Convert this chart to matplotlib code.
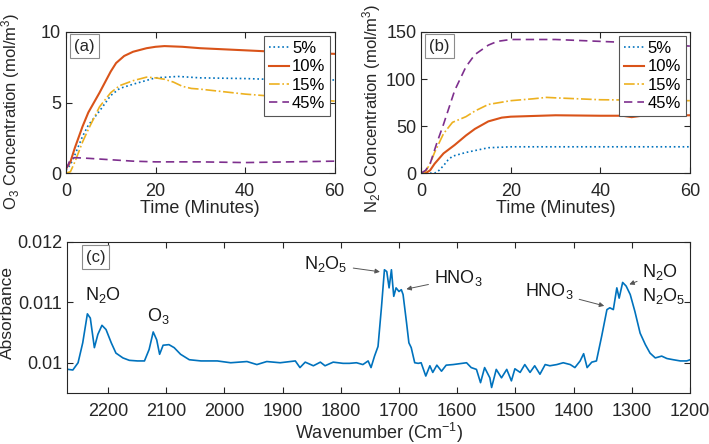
import matplotlib
matplotlib.use("Agg")
import matplotlib.pyplot as plt

plt.rcParams["font.family"] = ["Liberation Sans", "DejaVu Sans"]
plt.rcParams["mathtext.fontset"] = "custom"
plt.rcParams["mathtext.rm"] = "Liberation Sans"
plt.rcParams["mathtext.it"] = "Liberation Sans"

# ---------------------------------------------------------------------------
# Data
# ---------------------------------------------------------------------------
labels = ["5%", "10%", "15%", "45%"]

# (a) O3 concentration
o3_t_5 = [0, 1, 2, 3.7, 5, 7.5, 10, 12, 15, 20, 25, 30, 40, 50, 60]
o3_5 = [0.2, 0.6, 1.3, 2.6, 3.4, 4.4, 5.5, 6.0, 6.3, 6.75, 6.85, 6.75, 6.7, 6.6, 6.6]
o3_t_10 = [0, 1, 2, 3.7, 5, 7.5, 10, 11.2, 13, 15, 18, 20, 22, 26, 30, 40, 50, 60]
o3_10 = [0.3, 0.8, 1.8, 3.3, 4.3, 5.7, 7.2, 7.8, 8.3, 8.6, 8.85, 8.95, 9.0, 8.95, 8.85, 8.7, 8.55, 8.45]
o3_t_15 = [0, 1, 2, 3.7, 5, 7.5, 10, 12, 15, 18, 20, 22, 24, 26, 28, 30, 40, 50, 60]
o3_15 = [0.0, 0.1, 0.8, 2.2, 3.1, 4.7, 5.7, 6.2, 6.55, 6.8, 6.75, 6.65, 6.45, 6.15, 6.0, 5.95, 5.6, 5.35, 5.1]
o3_t_45 = [0, 0.5, 1, 2, 5, 10, 15, 20, 30, 40, 50, 60]
o3_45 = [0.3, 0.6, 1.0, 1.1, 1.05, 0.95, 0.85, 0.8, 0.8, 0.75, 0.8, 0.85]

# (b) N2O concentration
n2o_t_5 = [0, 2, 3, 4, 5, 6, 7, 10, 12, 15, 20, 30, 40, 50, 60]
n2o_5 = [0, 0, 0, 3, 8, 14, 18, 22, 24, 27, 28, 28, 28, 28, 28]
n2o_t_10 = [0, 1, 2, 3, 5, 7.5, 10, 12, 15, 18, 20, 30, 40, 45, 47, 50, 60]
n2o_10 = [0, 0, 3, 10, 21, 30, 40, 47, 55, 59, 60, 61.5, 61, 61, 59.5, 61.5, 61.5]
n2o_t_15 = [0, 1, 2, 3, 5, 7, 8, 10, 12, 15, 20, 25, 28, 30, 40, 50, 60]
n2o_15 = [0, 2, 10, 22, 42, 54, 56, 60, 66, 73, 77, 79, 80.5, 80, 78, 77.5, 77]
n2o_t_45 = [0, 1, 2, 3.5, 5, 7.5, 10, 12, 15, 17, 20, 30, 40, 50, 60]
n2o_45 = [0, 3, 10, 32, 52, 88, 113, 126, 136, 140, 142, 142, 140, 138, 135]

# (c) FTIR spectrum
wavenumber = [2268, 2260, 2251, 2243, 2235, 2230, 2223, 2217, 2210, 2203, 2194, 2186,
              2174, 2163, 2149, 2137, 2129, 2122, 2116, 2111, 2105, 2095, 2086, 2075,
              2060, 2040, 2012, 1989, 1961, 1944, 1927, 1904, 1878, 1870, 1861, 1847,
              1835, 1827, 1813, 1796, 1785, 1773, 1762, 1753, 1748, 1742, 1736, 1730,
              1725, 1721, 1717, 1713, 1709, 1705, 1700, 1696, 1693, 1687, 1683, 1679,
              1673, 1667, 1662, 1654, 1647, 1642, 1635, 1627, 1619, 1607, 1584, 1576,
              1567, 1560, 1553, 1544, 1541, 1533, 1524, 1515, 1507, 1501, 1492, 1484,
              1475, 1467, 1458, 1449, 1441, 1429, 1418, 1406, 1398, 1389, 1383, 1377,
              1369, 1361, 1352, 1343, 1338, 1332, 1326, 1322, 1316, 1310, 1303, 1295,
              1286, 1277, 1269, 1260, 1249, 1240, 1229, 1217, 1206, 1200]
absorbance = [0.00989, 0.00988, 0.01000, 0.01033, 0.01081, 0.01074, 0.01025, 0.01047,
              0.01062, 0.01055, 0.01033, 0.01016, 0.01008, 0.01004, 0.01003, 0.01003,
              0.01022, 0.01051, 0.01038, 0.01014, 0.01029, 0.01030, 0.01025, 0.01014,
              0.01005, 0.01003, 0.01003, 0.01000, 0.01002, 0.00997, 0.01002, 0.01000,
              0.01003, 0.00992, 0.01001, 0.00995, 0.01001, 0.00995, 0.01001, 0.00999,
              0.00999, 0.01000, 0.00997, 0.01003, 0.00992, 0.01011, 0.01027, 0.01093,
              0.01154, 0.01151, 0.01124, 0.01154, 0.01110, 0.01124, 0.01118, 0.01121,
              0.01113, 0.01066, 0.01033, 0.01025, 0.01000, 0.00999, 0.01000, 0.00978,
              0.00995, 0.00984, 0.00996, 0.00986, 0.00996, 0.00997, 0.01000, 0.00992,
              0.00989, 0.00967, 0.00992, 0.00975, 0.00959, 0.00989, 0.00975, 0.00989,
              0.00970, 0.00990, 0.00984, 0.00997, 0.00984, 0.00995, 0.00981, 0.00997,
              0.00995, 0.00997, 0.01000, 0.00997, 0.00992, 0.01003, 0.01015, 0.00992,
              0.01001, 0.01003, 0.01044, 0.01088, 0.01091, 0.01088, 0.01124, 0.01107,
              0.01133, 0.01127, 0.01113, 0.01085, 0.01049, 0.01030, 0.01016, 0.01008,
              0.01011, 0.01007, 0.01005, 0.01003, 0.01003, 0.01005]

COLORS = ["#0072BD", "#D95319", "#EDB120", "#7E2F8E"]
STYLES = [":", "-", "-.", (0, (5, 3))]
WIDTHS = [1.2, 1.5, 1.2, 1.2]
AXCOL = "#262626"


def style_axes(ax):
    for s in ax.spines.values():
        s.set_color(AXCOL)
        s.set_linewidth(0.8)
    ax.tick_params(direction="in", top=True, right=True, labelsize=13,
                   colors=AXCOL, length=4, width=0.8)
    ax.tick_params(axis="x", pad=7)


def panel_tag(ax, text):
    ax.text(0.03, 0.9, text, transform=ax.transAxes, fontsize=12, va="center",
            ha="left", color=AXCOL,
            bbox=dict(boxstyle="square,pad=0.25", fc="white", ec="#8c8c8c", lw=0.8))


fig = plt.figure(figsize=(7.09, 4.44), dpi=100)

# --------------------------------------------------------------------------- (a)
ax_a = fig.add_axes([0.093, 0.610, 0.379, 0.318])
series_a = [(o3_t_5, o3_5), (o3_t_10, o3_10), (o3_t_15, o3_15), (o3_t_45, o3_45)]
for (t, y), c, ls, lw, lab in zip(series_a, COLORS, STYLES, WIDTHS, labels):
    ax_a.plot(t, y, color=c, ls=ls, lw=lw, label=lab)
ax_a.set_xlim(0, 60)
ax_a.set_ylim(0, 10)
ax_a.set_xticks([0, 20, 40, 60])
ax_a.set_yticks([0, 5, 10])
ax_a.set_xlabel("Time (Minutes)", fontsize=13, color=AXCOL, labelpad=0)
ax_a.set_ylabel("O$_3$ Concentration (mol/m$^3$)", fontsize=12, color=AXCOL)
ax_a.yaxis.set_label_coords(-0.163, 0.44)
style_axes(ax_a)
panel_tag(ax_a, "(a)")

# --------------------------------------------------------------------------- (b)
ax_b = fig.add_axes([0.594, 0.610, 0.379, 0.318])
series_b = [(n2o_t_5, n2o_5), (n2o_t_10, n2o_10), (n2o_t_15, n2o_15), (n2o_t_45, n2o_45)]
for (t, y), c, ls, lw, lab in zip(series_b, COLORS, STYLES, WIDTHS, labels):
    ax_b.plot(t, y, color=c, ls=ls, lw=lw, label=lab)
ax_b.set_xlim(0, 60)
ax_b.set_ylim(0, 150)
ax_b.set_xticks([0, 20, 40, 60])
ax_b.set_yticks([0, 50, 100, 150])
ax_b.set_xlabel("Time (Minutes)", fontsize=13, color=AXCOL, labelpad=0)
ax_b.set_ylabel("N$_2$O Concentration (mol/m$^3$)", fontsize=12, color=AXCOL)
ax_b.yaxis.set_label_coords(-0.141, 0.46)
style_axes(ax_b)
panel_tag(ax_b, "(b)")

for ax in (ax_a, ax_b):
    leg = ax.legend(loc="upper right", fontsize=12, handlelength=1.2, handletextpad=0.2,
                    borderpad=0.3, labelspacing=0.2, borderaxespad=0.25, fancybox=False,
                    framealpha=1, edgecolor="#555555")
    leg.get_frame().set_linewidth(0.8)

# --------------------------------------------------------------------------- (c)
ax_c = fig.add_axes([0.0945, 0.115, 0.879, 0.340])
ax_c.plot(wavenumber, absorbance, color=COLORS[0], lw=1.2)
ax_c.set_xlim(2270, 1200)
ax_c.set_ylim(0.0095, 0.012)
ax_c.set_xticks(range(2200, 1199, -100))
ax_c.set_yticks([0.010, 0.011, 0.012])
ax_c.set_yticklabels(["0.01", "0.011", "0.012"])
ax_c.set_xlabel("Wavenumber (Cm$^{-1}$)", fontsize=13, color=AXCOL, labelpad=1)
ax_c.set_ylabel("Absorbance", fontsize=12.5, color=AXCOL)
ax_c.yaxis.set_label_coords(-0.0835, 0.53)
style_axes(ax_c)
panel_tag(ax_c, "(c)")

ann = dict(fontsize=13, color="#1a1a1a")
arrow = dict(arrowstyle="-|>", color="#555555", lw=0.7, mutation_scale=7)
ax_c.text(2208, 0.01112, "N$_2$O", ha="center", va="center", **ann)
ax_c.text(2114, 0.01078, "O$_3$", ha="center", va="center", **ann)
ax_c.annotate("N$_2$O$_5$", xy=(1728, 0.01150), xytext=(1788, 0.01163),
              ha="right", va="center", arrowprops=arrow, **ann)
ax_c.annotate("HNO$_3$", xy=(1692, 0.01121), xytext=(1640, 0.01140),
              ha="left", va="center", arrowprops=arrow, **ann)
ax_c.annotate("HNO$_3$", xy=(1343, 0.01093), xytext=(1400, 0.01118),
              ha="right", va="center", arrowprops=arrow, **ann)
ax_c.annotate("N$_2$O", xy=(1309, 0.01128), xytext=(1282, 0.01150),
              ha="left", va="center", arrowprops=arrow, **ann)
ax_c.text(1282, 0.01110, "N$_2$O$_5$", ha="left", va="center", **ann)

fig.savefig("out.png", dpi=100)
